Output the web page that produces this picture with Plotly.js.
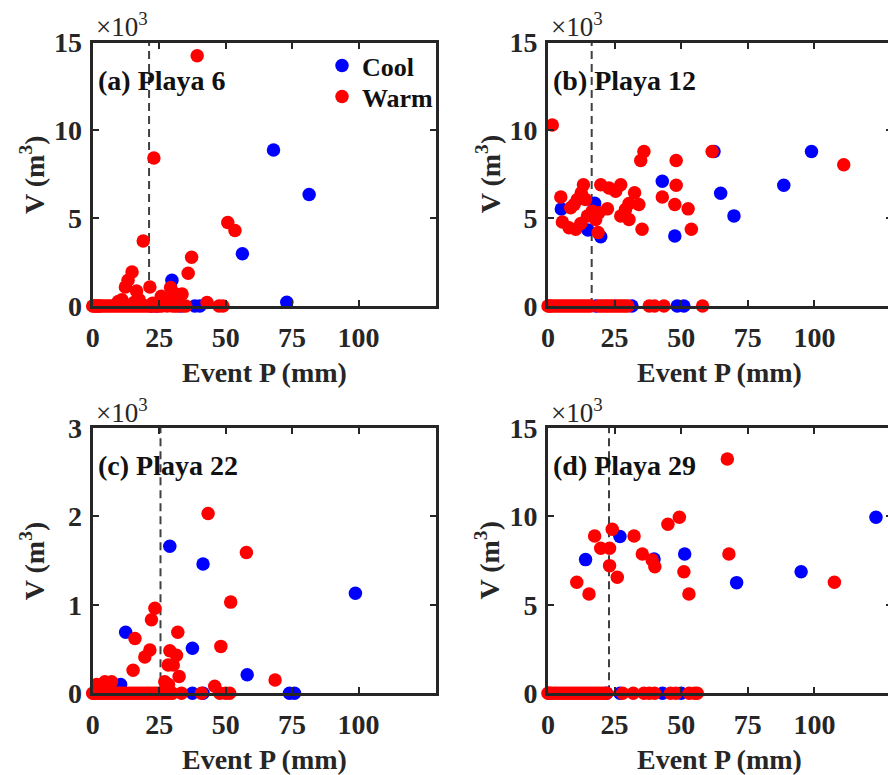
<!DOCTYPE html>
<html>
<head>
<meta charset="utf-8">
<script src="https://cdn.plot.ly/plotly-3.0.1.min.js"></script>
<style>
html,body{margin:0;padding:0;overflow:hidden;background:#fff;}
#chart{width:896px;height:775px;}
</style>
</head>
<body>
<div id="chart"></div>
<script>
// ---------------- DATA (V in units of 10^3 m^3, P in mm) ----------------
const panelLabels = ["(a) Playa 6", "(b) Playa 12", "(c) Playa 22", "(d) Playa 29"];
const thresholds = [21.2, 16.4, 25.5, 22.9];
const xTicks = [0, 25, 50, 75, 100];
const yTicksBig = [0, 5, 10, 15];
const yTicksSmall = [0, 1, 2, 3];

// Panel (a) Playa 6
const coolP_a = [68, 81.4, 56.3, 73, 29.8, 38.4, 40.3, 24, 33, 22];
const coolV_a = [8.88, 6.35, 2.98, 0.21, 1.46, 0, 0, 0, 0, 0];
const warmP_a = [39.3, 23, 19, 37.2, 35.9, 50.8, 53.5, 14.8, 13.3, 12.3, 21.5, 16.5, 29.3, 31, 33.6, 25.8, 43, 9.6, 11, 17.5, 27, 30.5, 15.5, 22.5, 26.5, 28.5,
  0, 0.5, 1, 1.5, 2, 2.5, 3, 4, 5, 6, 7, 8, 9, 10, 11, 12, 13, 14, 15, 16, 17, 18, 19, 20, 21, 22, 23, 24, 25, 26, 28, 30, 31, 32, 34, 35, 47.5, 49];
const warmV_a = [14.24, 8.42, 3.7, 2.78, 1.86, 4.75, 4.3, 1.94, 1.46, 1.08, 1.08, 0.85, 1.05, 0.7, 0.68, 0.55, 0.2, 0.25, 0.35, 0.35, 0.4, 0.3, 0.2, 0.15, 0.15, 0.1,
  0, 0, 0, 0, 0, 0, 0, 0, 0, 0, 0, 0, 0, 0, 0, 0, 0, 0, 0, 0, 0, 0, 0, 0, 0, 0, 0, 0, 0, 0, 0, 0, 0, 0, 0, 0, 0, 0];

// Panel (b) Playa 12
const coolP_b = [62.3, 98.9, 42.9, 64.8, 88.5, 69.8, 47.6, 19.8, 5, 15, 17.5, 18, 31.5, 48.5, 51];
const coolV_b = [8.79, 8.79, 7.1, 6.42, 6.87, 5.13, 3.98, 3.94, 5.52, 4.33, 5.85, 0, 0, 0, 0];
const warmP_b = [1.6, 36, 34.8, 48.1, 61.6, 111, 48.1, 42.9, 47.6, 52.6, 53.8, 35.3, 32.5, 34.1, 30.4, 29.1, 27.3, 30.4, 27.3, 25.4, 22.9, 19.8, 22.3, 19.1, 18.8, 13.3, 12.5, 11, 9.8, 8.5, 4.8, 5.4, 7.9, 10.4, 12.3, 14.8, 16.6, 17.9, 14.1,
  0, 0.5, 1, 2, 3, 4, 5, 6, 7, 8, 9, 10, 11, 12, 13, 14, 15, 16, 19, 20, 21, 22, 23, 24, 25, 26, 27, 28, 29, 30, 38, 40, 43.5, 58];
const warmV_b = [10.3, 8.79, 8.28, 8.28, 8.79, 8.04, 6.87, 6.21, 5.78, 5.53, 4.37, 4.37, 6.44, 5.78, 5.83, 5.5, 5.12, 4.93, 6.9, 6.53, 6.72, 6.9, 5.53, 5.31, 4.18, 6.9, 6.44, 6.06, 5.78, 5.59, 6.21, 4.78, 4.46, 4.37, 4.7, 5.12, 5.4, 4.93, 6.06,
  0, 0, 0, 0, 0, 0, 0, 0, 0, 0, 0, 0, 0, 0, 0, 0, 0, 0, 0, 0, 0, 0, 0, 0, 0, 0, 0, 0, 0, 0, 0, 0, 0, 0];

// Panel (c) Playa 22
const coolP_c = [29, 41.5, 98.8, 12.4, 37.5, 58.1, 10.5, 74, 75.9, 37.5, 41.5];
const coolV_c = [1.66, 1.46, 1.13, 0.69, 0.51, 0.21, 0.1, 0, 0, 0, 0];
const warmP_c = [43.4, 57.8, 51.9, 23.4, 22.1, 15.9, 32, 48.2, 21.5, 19.6, 15.2, 29, 31.5, 28.4, 30.3, 32.5, 68.6, 27.1, 45.9, 4.6, 7.1, 1.5, 28.5,
  0, 0.5, 1, 2, 3, 4, 5, 6, 7, 8, 9, 10, 11, 12, 13, 14, 15, 16, 17, 18, 19, 20, 21, 22, 23, 24, 25, 26, 27, 28, 29, 30, 33.4, 40.9, 47.8, 50, 51.5];
const warmV_c = [2.03, 1.59, 1.03, 0.96, 0.83, 0.62, 0.69, 0.53, 0.49, 0.41, 0.26, 0.48, 0.43, 0.32, 0.32, 0.19, 0.15, 0.13, 0.08, 0.13, 0.13, 0.1, 0.1,
  0, 0, 0, 0, 0, 0, 0, 0, 0, 0, 0, 0, 0, 0, 0, 0, 0, 0, 0, 0, 0, 0, 0, 0, 0, 0, 0, 0, 0, 0, 0, 0, 0, 0, 0, 0, 0];

// Panel (d) Playa 29
const coolP_d = [123.1, 51.3, 27, 14.1, 39.8, 70.8, 95, 22, 27, 43, 50];
const coolV_d = [9.94, 7.87, 8.85, 7.55, 7.59, 6.25, 6.87, 0, 0, 0, 0];
const warmP_d = [67.3, 49.3, 45, 24.1, 32.3, 17.5, 19.8, 23.1, 23.1, 26, 35.4, 39.1, 40.1, 51, 52.9, 67.9, 107.5, 10.8, 15.4,
  0, 0.5, 1, 2, 3, 4, 5, 6, 7, 8, 9, 10, 11, 12, 13, 14, 15, 16, 17, 18, 19, 20, 21, 22, 28, 32, 36, 38, 40, 46, 48, 53, 55, 56];
const warmV_d = [13.23, 9.94, 9.55, 9.26, 8.88, 8.88, 8.19, 8.19, 7.21, 6.55, 7.87, 7.53, 7.15, 6.87, 5.61, 7.87, 6.27, 6.27, 5.61,
  0, 0, 0, 0, 0, 0, 0, 0, 0, 0, 0, 0, 0, 0, 0, 0, 0, 0, 0, 0, 0, 0, 0, 0, 0, 0, 0, 0, 0, 0, 0, 0, 0, 0];

// ---------------- STYLE ----------------
const FONT = "Liberation Serif, Times New Roman, serif";
const TXT = "#262626";
const W = 896, H = 775;
const coolColor = "#0000ff", warmColor = "#ff0000";

const panels = [
  {cp: coolP_a, cv: coolV_a, wp: warmP_a, wv: warmV_a, yr: [0, 15], yt: yTicksBig},
  {cp: coolP_b, cv: coolV_b, wp: warmP_b, wv: warmV_b, yr: [0, 15], yt: yTicksBig},
  {cp: coolP_c, cv: coolV_c, wp: warmP_c, wv: warmV_c, yr: [0, 3], yt: yTicksSmall},
  {cp: coolP_d, cv: coolV_d, wp: warmP_d, wv: warmV_d, yr: [0, 15], yt: yTicksBig}
];

// plot boxes in pixels [left, right, top, bottom]
const boxes = [
  [92.7, 435.7, 42.5, 306],
  [548, 891.7, 42.5, 306],
  [92.7, 435.7, 427.7, 693.3],
  [548, 891.7, 427.7, 693.3]
];

const legendFont = {family: FONT, size: 26, weight: "bold", color: "#111"};
const traces = [];
const layout = {
  width: W, height: H,
  margin: {l: 0, r: 0, t: 0, b: 0},
  paper_bgcolor: "#fff", plot_bgcolor: "#fff",
  font: {family: FONT, color: TXT},
  showlegend: true,
  legend: {
    x: 322 / W, xanchor: "left", y: 1 - 42 / H, yanchor: "top",
    bgcolor: "rgba(0,0,0,0)", borderwidth: 0, font: legendFont, itemwidth: 30
  },
  legend2: {
    x: 322 / W, xanchor: "left", y: 1 - 73 / H, yanchor: "top",
    bgcolor: "rgba(0,0,0,0)", borderwidth: 0, font: legendFont, itemwidth: 30
  },
  annotations: [],
  shapes: []
};

panels.forEach((p, i) => {
  const n = i + 1;
  const xa = n === 1 ? "x" : "x" + n;
  const ya = n === 1 ? "y" : "y" + n;
  const b = boxes[i];
  const axisBase = {
    showline: true, linecolor: TXT, linewidth: 3, mirror: "allticks",
    ticks: "inside", ticklen: 6, tickwidth: 2, tickcolor: TXT,
    showgrid: false, zeroline: false, fixedrange: true, automargin: false,
    tickfont: {family: FONT, size: 28, weight: "bold", color: TXT}
  };
  layout["xaxis" + (n === 1 ? "" : n)] = Object.assign({}, axisBase, {
    domain: [b[0] / W, b[1] / W], range: [0, 129],
    tickmode: "array", tickvals: xTicks, ticktext: xTicks.map(String),
    anchor: ya, ticklabelstandoff: 4
  });
  layout["yaxis" + (n === 1 ? "" : n)] = Object.assign({}, axisBase, {
    domain: [1 - b[3] / H, 1 - b[2] / H], range: p.yr,
    tickmode: "array", tickvals: p.yt, ticktext: p.yt.map(String),
    anchor: xa, ticklabelstandoff: 2
  });

  traces.push({
    type: "scatter", mode: "markers", x: p.cp, y: p.cv, xaxis: xa, yaxis: ya,
    name: "Cool", showlegend: i === 0, legend: "legend", cliponaxis: false,
    marker: {color: coolColor, size: 13.5, line: {width: 0}}
  });
  traces.push({
    type: "scatter", mode: "markers", x: p.wp, y: p.wv, xaxis: xa, yaxis: ya,
    name: "Warm", showlegend: i === 0, legend: "legend2", cliponaxis: false,
    marker: {color: warmColor, size: 13.5, line: {width: 0}}
  });

  layout.shapes.push({
    type: "line", xref: xa, yref: ya + " domain",
    x0: thresholds[i], x1: thresholds[i], y0: 0, y1: 1,
    line: {color: "#404040", width: 2, dash: "8px,5px"}, layer: "below"
  });

  // panel label
  layout.annotations.push({
    xref: xa + " domain", yref: ya + " domain", x: 0, y: 1,
    xanchor: "left", yanchor: "middle", xshift: 3, yshift: -38,
    text: panelLabels[i], showarrow: false,
    font: {family: FONT, size: 28, weight: "bold", color: "#111"}
  });
  // exponent label
  layout.annotations.push({
    xref: xa + " domain", yref: ya + " domain", x: 0, y: 1,
    xanchor: "left", yanchor: "bottom", xshift: 1, yshift: -2,
    text: "×10<sup>3</sup>", showarrow: false,
    font: {family: FONT, size: 27, color: TXT}
  });
  // x title
  layout.annotations.push({
    xref: xa + " domain", yref: ya + " domain", x: 0.5, y: 0,
    xanchor: "center", yanchor: "middle", yshift: -66,
    text: "Event P (mm)", showarrow: false,
    font: {family: FONT, size: 28, weight: "bold", color: TXT}
  });
  // y title
  layout.annotations.push({
    xref: xa + " domain", yref: ya + " domain", x: 0, y: 0.5,
    xanchor: "center", yanchor: "middle", xshift: -60,
    text: "V (m<sup>3</sup>)", textangle: -90, showarrow: false,
    font: {family: FONT, size: 28, weight: "bold", color: TXT}
  });
});

Plotly.newPlot("chart", traces, layout, {staticPlot: true, displayModeBar: false});
</script>
</body>
</html>
